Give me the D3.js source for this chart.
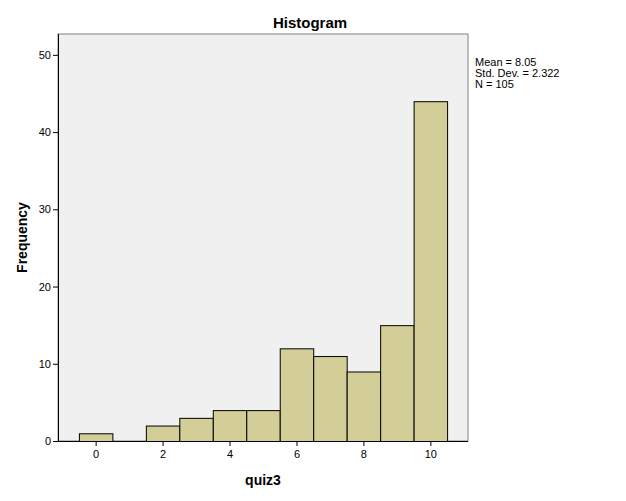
<!DOCTYPE html>
<html>
<head>
<meta charset="utf-8">
<script src="https://cdn.jsdelivr.net/npm/d3@7"></script>
<style>
  body { margin: 0; background: #fff; }
  svg { display: block; font-family: "Liberation Sans", Arial, sans-serif; }
  .axis text { font-size: 11px; fill: #000; }
  .axis path, .axis line { stroke: #000; }
</style>
</head>
<body>
<svg id="chart"></svg>
<script>
// quiz3 score bins and their counts
const scores = [0, 1, 2, 3, 4, 5, 6, 7, 8, 9, 10]
const counts = [1, 0, 2, 3, 4, 4, 12, 11, 9, 15, 44]
const xTicks = [0, 2, 4, 6, 8, 10]
const yTicks = [0, 10, 20, 30, 40, 50]
const stats = ['Mean = 8.05', 'Std. Dev. = 2.322', 'N = 105']

const width = 626
const height = 501
const plot = { left: 58, top: 34, right: 468, bottom: 441 }

const svg = d3.select('#chart')
  .attr('width', width)
  .attr('height', height)

const x = d3.scaleLinear()
  .domain([-1.125, 11.125])
  .range([plot.left, plot.right])
const y = d3.scaleLinear()
  .domain([0, 52.7])
  .range([plot.bottom, plot.top])

// plot background
svg.append('rect')
  .attr('x', plot.left)
  .attr('y', plot.top)
  .attr('width', plot.right - plot.left)
  .attr('height', plot.bottom - plot.top)
  .attr('fill', '#f0f0f0')
  .attr('stroke', '#808080')
  .attr('stroke-width', 1)

// bars
const bars = svg.append('g').attr('class', 'bars')
scores.forEach((s, i) => {
  if (counts[i] === 0) return
  bars.append('rect')
    .attr('x', x(s - 0.5) + 0.5)
    .attr('y', y(counts[i]) + 0.5)
    .attr('width', x(s + 0.5) - x(s - 0.5))
    .attr('height', y(0) - y(counts[i]))
    .attr('fill', '#d3ce97')
    .attr('stroke', '#000')
    .attr('stroke-width', 1)
})

// axes
svg.append('g')
  .attr('class', 'axis')
  .attr('transform', `translate(${plot.left},0)`)
  .call(d3.axisLeft(y).tickValues(yTicks).tickSize(5).tickSizeOuter(0).tickPadding(2))
  .select('.domain').remove()
svg.append('line')
  .attr('x1', plot.left + 0.5).attr('x2', plot.left + 0.5)
  .attr('y1', plot.top).attr('y2', plot.bottom)
  .attr('stroke', '#000')

svg.append('g')
  .attr('class', 'axis')
  .attr('transform', `translate(0,${plot.bottom})`)
  .call(d3.axisBottom(x).tickValues(xTicks).tickSize(5).tickSizeOuter(0).tickPadding(4))
  .select('.domain').remove()
svg.append('line')
  .attr('x1', plot.left).attr('x2', plot.right)
  .attr('y1', plot.bottom + 0.5).attr('y2', plot.bottom + 0.5)
  .attr('stroke', '#000')

// title and axis labels
svg.append('text')
  .attr('x', 310)
  .attr('y', 28)
  .attr('text-anchor', 'middle')
  .attr('font-size', 15)
  .attr('font-weight', 'bold')
  .text('Histogram')

svg.append('text')
  .attr('x', (plot.left + plot.right) / 2)
  .attr('y', 485)
  .attr('text-anchor', 'middle')
  .attr('font-size', 14)
  .attr('font-weight', 'bold')
  .text('quiz3')

svg.append('text')
  .attr('transform', `translate(27,${(plot.top + plot.bottom) / 2}) rotate(-90)`)
  .attr('text-anchor', 'middle')
  .attr('font-size', 14)
  .attr('font-weight', 'bold')
  .text('Frequency')

// summary statistics
svg.append('g')
  .selectAll('text')
  .data(stats)
  .join('text')
  .attr('x', 475)
  .attr('y', (d, i) => 66 + i * 11)
  .attr('font-size', 11)
  .text(d => d)
</script>
</body>
</html>
